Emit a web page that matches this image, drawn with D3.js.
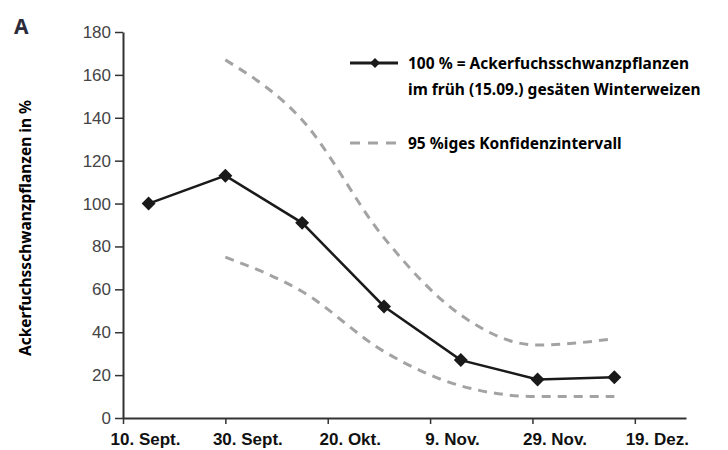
<!DOCTYPE html>
<html>
<head>
<meta charset="utf-8">
<script src="https://cdn.jsdelivr.net/npm/d3@7"></script>
<style>
    body { margin: 0; background: #fff; }
    svg { display: block; font-family: "Noto Sans", sans-serif; }
    .y.axis text { font-size: 17px; fill: #444; }
    .x.axis text { font-size: 17px; font-weight: bold; fill: #111; }
    .axis path, .axis line { stroke: #333; }
</style>
</head>
<body>
<div id="chart"></div>
<script>
// sowing dates of the winter wheat (relative to the early sowing on 15.09.)
var sowDates = ["2019-09-15", "2019-09-30", "2019-10-15", "2019-10-31", "2019-11-15", "2019-11-30", "2019-12-15"];
var blackGrass = [100, 113, 91, 52, 27, 18, 19];

// 95 % confidence interval, starts with the second sowing date
var ciDates = ["2019-09-30", "2019-10-15", "2019-10-31", "2019-11-15", "2019-11-30", "2019-12-15"];
var ciUpper = [167, 139, 84, 48, 34, 37];
var ciLower = [75, 59, 31, 15, 10, 10];

var xTickDates = ["2019-09-10", "2019-09-30", "2019-10-20", "2019-11-09", "2019-11-29", "2019-12-19"];
var xTickLabels = ["10. Sept.", "30. Sept.", "20. Okt.", "9. Nov.", "29. Nov.", "19. Dez."];
var yTicks = [0, 20, 40, 60, 80, 100, 120, 140, 160, 180];

var parse = d3.utcParse("%Y-%m-%d");

var width = 728, height = 450;
var svg = d3.select("#chart").append("svg")
    .attr("width", width)
    .attr("height", height);

var x = d3.scaleUtc()
    .domain([parse("2019-09-10"), parse("2019-12-29")])
    .range([123, 686]);
var y = d3.scaleLinear()
    .domain([0, 180])
    .range([418, 32]);

//axes
var yAxis = d3.axisLeft(y)
    .tickValues(yTicks)
    .tickSize(8)
    .tickSizeOuter(0)
    .tickPadding(4);
svg.append("g")
    .attr("class", "y axis")
    .attr("transform", "translate(" + x.range()[0] + ",0)")
    .call(yAxis);
svg.select(".y.axis path").attr("stroke-width", 2);
svg.selectAll(".y.axis line").attr("stroke-width", 1.5);

var xAxis = d3.axisBottom(x)
    .tickValues(xTickDates.map(parse))
    .tickFormat(function (d, i) { return xTickLabels[i]; })
    .tickSize(6)
    .tickSizeOuter(0)
    .tickPadding(9);
svg.append("g")
    .attr("class", "x axis")
    .attr("transform", "translate(0," + y(0) + ")")
    .call(xAxis);
svg.select(".x.axis path").attr("stroke-width", 2);
svg.selectAll(".x.axis line").attr("stroke-width", 1.5);
svg.selectAll(".x.axis text").attr("dx", 22);

//confidence interval
var ciLine = d3.line()
    .x(function (d) { return x(parse(d[0])); })
    .y(function (d) { return y(d[1]); })
    .curve(d3.curveMonotoneX);

[ciUpper, ciLower].forEach(function (vals) {
    svg.append("path")
        .attr("d", ciLine(ciDates.map(function (d, i) { return [d, vals[i]]; })))
        .attr("fill", "none")
        .attr("stroke", "#a3a3a3")
        .attr("stroke-width", 3)
        .attr("stroke-dasharray", "9,7");
});

//main series
var line = d3.line()
    .x(function (d) { return x(parse(d[0])); })
    .y(function (d) { return y(d[1]); });

svg.append("path")
    .attr("d", line(sowDates.map(function (d, i) { return [d, blackGrass[i]]; })))
    .attr("fill", "none")
    .attr("stroke", "#1a1a1a")
    .attr("stroke-width", 2.5);

var diamond = d3.symbol().type(d3.symbolSquare).size(70);
svg.selectAll("path.marker")
    .data(sowDates)
    .enter()
    .append("path")
    .attr("class", "marker")
    .attr("d", diamond)
    .attr("transform", function (d, i) {
        return "translate(" + x(parse(d)) + "," + y(blackGrass[i]) + ") rotate(45)";
    })
    .attr("fill", "#1a1a1a")
    .attr("stroke", "#1a1a1a")
    .attr("stroke-width", 1.5);

//legend
var legend = svg.append("g");
legend.append("line")
    .attr("x1", 350).attr("x2", 398)
    .attr("y1", 63).attr("y2", 63)
    .attr("stroke", "#1a1a1a")
    .attr("stroke-width", 3);
legend.append("path")
    .attr("d", d3.symbol().type(d3.symbolSquare).size(50))
    .attr("transform", "translate(375,63) rotate(45)")
    .attr("fill", "#1a1a1a");
legend.append("text")
    .attr("x", 408).attr("y", 69)
    .style("font-size", "15.5px")
    .style("font-weight", "bold")
    .text("100 % = Ackerfuchsschwanzpflanzen");
legend.append("text")
    .attr("x", 408).attr("y", 95)
    .style("font-size", "15.5px")
    .style("font-weight", "bold")
    .text("im früh (15.09.) gesäten Winterweizen");
legend.append("line")
    .attr("x1", 350).attr("x2", 398)
    .attr("y1", 143).attr("y2", 143)
    .attr("stroke", "#a3a3a3")
    .attr("stroke-width", 3)
    .attr("stroke-dasharray", "10,8");
legend.append("text")
    .attr("x", 408).attr("y", 149)
    .style("font-size", "15.5px")
    .style("font-weight", "bold")
    .text("95 %iges Konfidenzintervall");

//y label and panel letter
svg.append("text")
    .attr("transform", "translate(31,228) rotate(-90)")
    .attr("text-anchor", "middle")
    .style("font-size", "15.5px")
    .style("font-weight", "bold")
    .text("Ackerfuchsschwanzpflanzen in %");

svg.append("text")
    .attr("x", 14).attr("y", 34)
    .style("font-size", "21px")
    .style("font-weight", "bold")
    .style("fill", "#2b2b3b")
    .text("A");
</script>
</body>
</html>
